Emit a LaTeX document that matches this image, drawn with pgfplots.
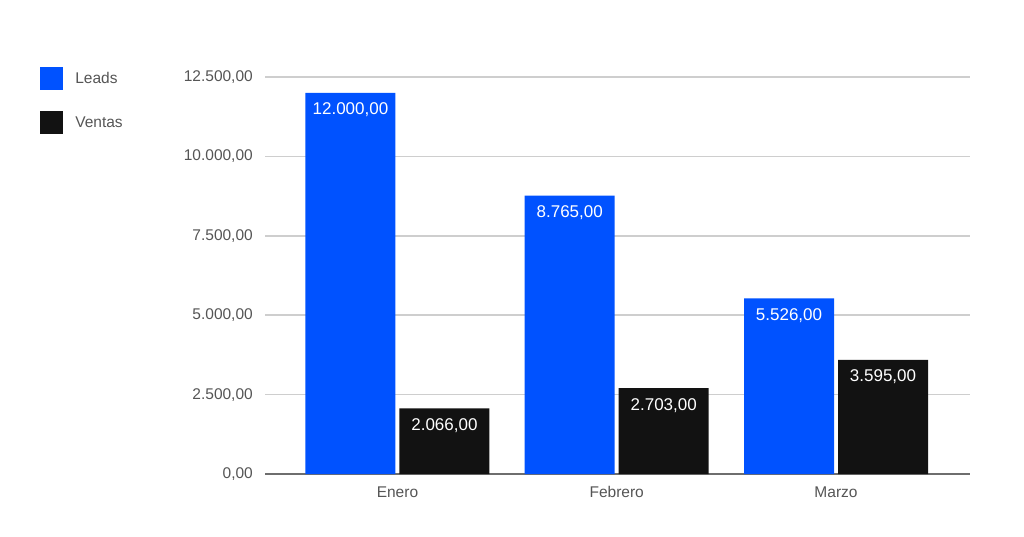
\documentclass[border=0pt]{standalone}
\usepackage{pgfplots}
\pgfplotsset{compat=1.18}
\usepackage{fontspec}
\setmainfont{Liberation Sans}

\definecolor{leadsblue}{RGB}{0,82,255}
\definecolor{ventasblack}{RGB}{18,18,18}
\definecolor{gridgray}{RGB}{206,206,206}
\definecolor{axisgray}{RGB}{110,110,110}
\definecolor{labelgray}{RGB}{85,85,85}

\begin{document}
\begin{tikzpicture}
\path (0pt,0pt) rectangle (1024pt,536pt);
\begin{axis}[
    at={(265pt,62pt)}, anchor=south west,
    scale only axis, width=705pt, height=397pt,
    ybar=4pt, bar width=90pt,
    xmin=-0.604, xmax=2.611,
    ymin=0, ymax=12500,
    xtick={0,1,2},
    xticklabels={Enero,Febrero,Marzo},
    ytick={0,2500,...,12500},
    scaled y ticks=false,
    axis x line*=bottom, axis y line*=left,
    y axis line style={draw=none},
    x axis line style={axisgray, line width=1.5pt},
    ymajorgrids=true,
    grid style={gridgray, line width=1.5pt},
    major tick length=0pt,
    tick label style={font=\fontsize{15.5}{18}\selectfont, text=labelgray},
    yticklabel style={inner sep=0pt, xshift=-12pt},
    xticklabel style={inner sep=0pt, yshift=-12pt, text height=11pt, text depth=0pt},
    /pgf/number format/fixed,
    /pgf/number format/fixed zerofill,
    /pgf/number format/precision=2,
    /pgf/number format/use comma,
    /pgf/number format/1000 sep={.},
    /pgf/number format/assume math mode=true,
    nodes near coords,
    nodes near coords style={anchor=north, inner sep=0pt, yshift=-10pt,
        text=white, font=\fontsize{17}{20}\selectfont},
    legend style={at={(-0.319,1.025)}, anchor=north west, draw=none, fill=none,
        font=\fontsize{15.5}{18}\selectfont, text=labelgray, row sep=21pt,
        inner sep=0pt, nodes={inner sep=0pt},
        /tikz/every odd column/.append style={column sep=12pt}},
    legend cell align=left,
    legend image code/.code={\fill[#1] (0pt,-11.5pt) rectangle (23pt,11.5pt);},
]
\addplot[draw=none, fill=leadsblue] coordinates {(0,12000) (1,8765) (2,5526)};
\addplot[draw=none, fill=ventasblack] coordinates {(0,2066) (1,2703) (2,3595)};
\legend{Leads,Ventas}
\end{axis}
\end{tikzpicture}
\end{document}
